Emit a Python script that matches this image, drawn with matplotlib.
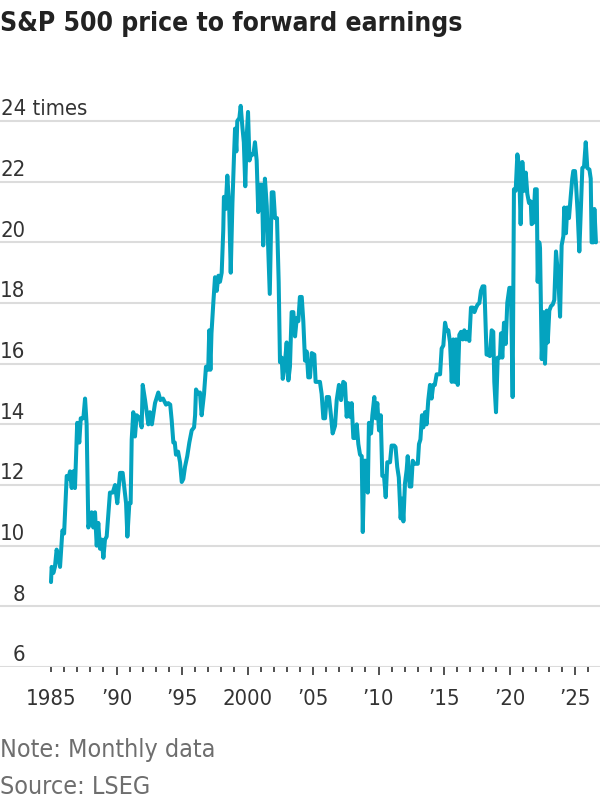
import matplotlib
matplotlib.use("Agg")
import matplotlib.pyplot as plt
import matplotlib.font_manager as fm

# ---- data (decimal year, forward P/E) ----
years = [
    1985.0, 1985.05, 1985.18, 1985.3, 1985.43, 1985.56, 1985.69, 1985.87, 1986.0, 1986.2,
    1986.32, 1986.45, 1986.58, 1986.7, 1986.83, 1987.0, 1987.16, 1987.27, 1987.47, 1987.6,
    1987.72, 1987.85, 1988.1, 1988.23, 1988.36, 1988.49, 1988.61, 1988.74, 1988.87, 1989.0,
    1989.12, 1989.25, 1989.5, 1989.71, 1989.89, 1990.06, 1990.27, 1990.47, 1990.73, 1990.83,
    1990.98, 1991.08, 1991.16, 1991.28, 1991.41, 1991.54, 1991.79, 1991.92, 1992.0, 1992.18,
    1992.43, 1992.55, 1992.7, 1992.94, 1993.19, 1993.35, 1993.55, 1993.78, 1993.95, 1994.1,
    1994.21, 1994.34, 1994.45, 1994.54, 1994.7, 1994.85, 1994.98, 1995.1, 1995.23, 1995.4,
    1995.56, 1995.74, 1995.92, 1996.0, 1996.07, 1996.25, 1996.37, 1996.5, 1996.68, 1996.83,
    1997.0, 1997.08, 1997.17, 1997.25, 1997.39, 1997.52, 1997.65, 1997.78, 1997.9, 1998.03,
    1998.15, 1998.2, 1998.33, 1998.46, 1998.6, 1998.72, 1998.85, 1998.97, 1999.05, 1999.15,
    1999.22, 1999.38, 1999.48, 1999.62, 1999.72, 1999.83, 1999.93, 2000.04, 2000.15, 2000.27,
    2000.45, 2000.57, 2000.7, 2000.82, 2000.95, 2001.1, 2001.2, 2001.33, 2001.47, 2001.7,
    2001.85, 2001.98, 2002.1, 2002.25, 2002.38, 2002.48, 2002.61, 2002.69, 2002.81, 2002.99,
    2003.12, 2003.24, 2003.37, 2003.5, 2003.63, 2003.76, 2003.88, 2004.0, 2004.14, 2004.26,
    2004.39, 2004.52, 2004.64, 2004.77, 2004.9, 2005.1, 2005.2, 2005.53, 2005.66, 2005.79,
    2005.92, 2006.05, 2006.22, 2006.37, 2006.5, 2006.68, 2006.81, 2006.98, 2007.14, 2007.31,
    2007.44, 2007.57, 2007.7, 2007.82, 2007.95, 2008.08, 2008.2, 2008.34, 2008.46, 2008.59,
    2008.72, 2008.8, 2008.92, 2009.02, 2009.18, 2009.27, 2009.43, 2009.53, 2009.68, 2009.79,
    2009.91, 2010.04, 2010.17, 2010.29, 2010.42, 2010.55, 2010.67, 2010.88, 2011.0, 2011.2,
    2011.3, 2011.43, 2011.55, 2011.69, 2011.8, 2011.9, 2012.02, 2012.15, 2012.23, 2012.38,
    2012.5, 2012.61, 2012.75, 2012.88, 2013.0, 2013.09, 2013.2, 2013.32, 2013.42, 2013.55,
    2013.67, 2013.8, 2013.93, 2014.05, 2014.18, 2014.3, 2014.44, 2014.7, 2014.82, 2014.95,
    2015.08, 2015.2, 2015.33, 2015.46, 2015.59, 2015.71, 2015.8, 2015.92, 2016.05, 2016.17,
    2016.3, 2016.43, 2016.55, 2016.68, 2016.8, 2016.93, 2017.06, 2017.2, 2017.32, 2017.45,
    2017.57, 2017.7, 2017.82, 2017.95, 2018.08, 2018.18, 2018.25, 2018.38, 2018.5, 2018.64,
    2018.76, 2018.84, 2018.97, 2019.1, 2019.2, 2019.27, 2019.35, 2019.45, 2019.58, 2019.71,
    2019.83, 2019.99, 2020.11, 2020.24, 2020.34, 2020.47, 2020.6, 2020.73, 2020.85, 2020.98,
    2021.11, 2021.24, 2021.36, 2021.49, 2021.62, 2021.69, 2021.82, 2021.95, 2022.08, 2022.15,
    2022.27, 2022.33, 2022.46, 2022.58, 2022.71, 2022.84, 2022.92, 2023.04, 2023.17, 2023.3,
    2023.42, 2023.55, 2023.73, 2023.86, 2023.98, 2024.11, 2024.18, 2024.31, 2024.41, 2024.54,
    2024.67, 2024.79, 2024.87, 2025.0, 2025.08, 2025.2, 2025.33, 2025.44, 2025.56, 2025.69,
    2025.82, 2025.94, 2026.1, 2026.2, 2026.27, 2026.4, 2026.48, 2026.6,
]
pe = [
    8.8, 9.3, 9.1, 9.3, 9.87, 9.6, 9.3, 10.5, 10.4, 12.3,
    12.2, 12.45, 11.9, 12.45, 11.9, 14.05, 13.4, 14.2, 14.2, 14.85,
    14.0, 10.6, 11.1, 10.6, 11.1, 10.0, 10.75, 9.9, 10.2, 9.6,
    10.2, 10.3, 11.75, 11.75, 12.0, 11.4, 12.4, 12.4, 11.4, 10.3,
    11.4, 11.4, 13.5, 14.4, 13.6, 14.3, 14.2, 13.9, 15.3, 14.8,
    14.0, 14.4, 14.0, 14.7, 15.05, 14.8, 14.85, 14.65, 14.7, 14.65,
    14.15, 13.4, 13.4, 13.0, 13.1, 12.75, 12.1, 12.2, 12.6, 12.95,
    13.4, 13.8, 13.9, 14.3, 15.15, 15.0, 15.05, 14.3, 15.0, 15.9,
    15.8, 17.1, 15.8, 17.0, 18.0, 18.85, 18.4, 18.9, 18.7, 19.0,
    20.4, 21.5, 21.1, 22.2, 21.2, 19.0, 21.3, 22.85, 23.75, 23.0,
    24.0, 24.1, 24.5, 23.75, 23.3, 21.85, 23.4, 24.3, 22.7, 22.9,
    22.9, 23.3, 22.7, 21.0, 21.9, 21.9, 19.9, 22.1, 21.2, 18.3,
    21.65, 21.65, 20.8, 20.8, 18.7, 16.05, 16.2, 15.5, 15.8, 16.7,
    15.45, 15.9, 17.7, 17.7, 16.9, 17.5, 17.4, 18.2, 18.2, 17.4,
    16.1, 16.4, 15.55, 15.55, 16.35, 16.3, 15.4, 15.4, 15.0, 14.2,
    14.2, 14.9, 14.9, 14.3, 13.7, 13.95, 14.8, 15.3, 14.8, 15.4,
    15.35, 14.25, 14.7, 14.25, 14.7, 13.55, 13.55, 14.0, 13.35, 13.0,
    12.95, 10.45, 12.8, 12.8, 11.75, 14.05, 13.7, 14.3, 14.9, 14.2,
    14.7, 13.8, 14.3, 12.3, 12.3, 11.6, 12.75, 12.75, 13.3, 13.3,
    13.25, 12.6, 12.25, 10.9, 11.55, 10.8, 12.05, 12.5, 12.95, 11.95,
    11.95, 12.8, 12.7, 12.7, 12.7, 13.35, 13.5, 14.3, 13.9, 14.4,
    14.0, 14.8, 15.3, 14.85, 15.3, 15.3, 15.65, 15.65, 16.5, 16.6,
    17.35, 17.1, 17.1, 16.7, 15.4, 16.8, 15.4, 16.8, 15.3, 16.95,
    17.05, 16.8, 17.1, 16.8, 17.05, 16.75, 17.85, 17.85, 17.7, 17.85,
    17.95, 18.0, 18.4, 18.55, 18.55, 17.25, 16.3, 16.3, 16.25, 17.1,
    17.05, 15.4, 14.4, 16.2, 16.2, 16.2, 17.0, 16.2, 17.35, 16.65,
    18.0, 18.5, 18.5, 14.9, 21.75, 21.7, 22.9, 22.5, 20.6, 22.65,
    21.7, 22.3, 21.6, 21.3, 21.35, 20.6, 20.65, 21.75, 21.75, 18.7,
    20.0, 19.8, 16.15, 17.7, 16.0, 17.75, 16.7, 17.75, 17.9, 17.95,
    18.1, 19.7, 18.8, 17.55, 19.9, 20.2, 21.15, 20.3, 21.15, 20.8,
    21.5, 22.1, 22.35, 22.35, 21.9, 21.0, 19.7, 21.0, 22.45, 22.5,
    23.3, 22.45, 22.4, 22.1, 20.0, 20.0, 21.1, 20.0,
]

ytick_values = [6, 8, 10, 12, 14, 16, 18, 20, 22, 24]
ytick_labels = ['6', '8', '10', '12', '14', '16', '18', '20', '22', '24 times']
xtick_major = [1985, 1990, 1995, 2000, 2005, 2010, 2015, 2020, 2025]
xtick_labels = ['1985', '\u201990', '\u201995', '2000', '\u201905', '\u201910', '\u201915', '\u201920', '\u201925']
xtick_minor = list(range(1985, 2027))

title = 'S&P 500 price to forward earnings'
note = 'Note: Monthly data'
source = 'Source: LSEG'


# ---- pick a narrow / condensed font if one is installed ----
def _w(f):
    w = f.weight
    if isinstance(w, str):
        w = fm.weight_dict.get(w, 400)
    return int(w)


def pick_narrow(target_weight):
    best = None
    for f in fm.fontManager.ttflist:
        fn = f.fname.lower()
        narrow = ('narrow' in fn or 'condensed' in fn or 'cond' in fn
                  or f.stretch in ('condensed', 'semi-condensed', 'extra-condensed'))
        if not narrow or f.style != 'normal' or 'mono' in fn:
            continue
        if 'extra' in fn or 'ultra' in fn:
            continue
        score = abs(_w(f) - target_weight)
        if 'liberation' in fn:
            score -= 50
        if best is None or score < best[0]:
            best = (score, f.fname)
    return best[1] if best else None


reg_path = pick_narrow(370)
bold_path = pick_narrow(700)
if reg_path:
    FP_REG = fm.FontProperties(fname=reg_path)
    S_XT, S_YT, S_NOTE = 15.8, 15.8, 18
else:
    FP_REG = fm.FontProperties(family=['Roboto', 'DejaVu Sans'], weight='light')
    S_XT, S_YT, S_NOTE = 14, 14, 15
if bold_path:
    FP_BOLD = fm.FontProperties(fname=bold_path)
    S_TITLE = 19
else:
    FP_BOLD = fm.FontProperties(family=['Roboto', 'DejaVu Sans'], weight='bold')
    S_TITLE = 17

LINE = '#04a3bf'
GRID = '#dcdcdc'
DARK = '#333333'
GRAY = '#6e6e6e'

W, H = 600, 800
fig = plt.figure(figsize=(6, 8), dpi=100)
ax = fig.add_axes([0, 133 / H, 1, (667 - 90.7) / H])

ax.plot(years, pe, color=LINE, lw=2.9, solid_joinstyle='round', solid_capstyle='round', zorder=3)

ax.set_xlim(1985 - 51 / 13.1, 1985 + 549 / 13.1)
ax.set_ylim(6, 25)

ax.set_yticks(ytick_values)
ax.yaxis.grid(True, color=GRID, lw=1.5)
ax.tick_params(axis='y', left=False, labelleft=False)
for s in ax.spines.values():
    s.set_visible(False)

ax.set_xticks(xtick_major)
ax.set_xticklabels(xtick_labels)
ax.set_xticks(xtick_minor, minor=True)
ax.tick_params(axis='x', which='major', length=6, width=1.2, color=DARK,
               labelcolor=DARK, pad=9.5)
ax.tick_params(axis='x', which='minor', length=3.3, width=1.2, color=DARK)
for lab in ax.get_xticklabels():
    lab.set_fontproperties(FP_REG)
    lab.set_fontsize(S_XT)
fig.canvas.draw()
ax.xaxis.get_major_ticks()[0].tick1line.set_markersize(3.3)

# y labels sitting above the gridlines
for v, lab in zip(ytick_values, ytick_labels):
    if lab.endswith('times'):
        ax.annotate(lab, xy=(1 / W, v), xycoords=('axes fraction', 'data'),
                    xytext=(0, 4), textcoords='offset points',
                    ha='left', va='baseline', fontproperties=FP_REG,
                    fontsize=S_YT, color=DARK)
    else:
        ax.annotate(lab, xy=(25.5 / W, v), xycoords=('axes fraction', 'data'),
                    xytext=(0, 4), textcoords='offset points',
                    ha='right', va='baseline', fontproperties=FP_REG,
                    fontsize=S_YT, color=DARK)

fig.text(0, 1 - 31 / H, title, fontproperties=FP_BOLD, fontsize=S_TITLE,
         color='#222222', ha='left', va='baseline')
fig.text(0, 1 - 757 / H, note, fontproperties=FP_REG, fontsize=S_NOTE,
         color=GRAY, ha='left', va='baseline')
fig.text(0, 1 - 794 / H, source, fontproperties=FP_REG, fontsize=S_NOTE,
         color=GRAY, ha='left', va='baseline')

fig.savefig('out.png', dpi=100)
